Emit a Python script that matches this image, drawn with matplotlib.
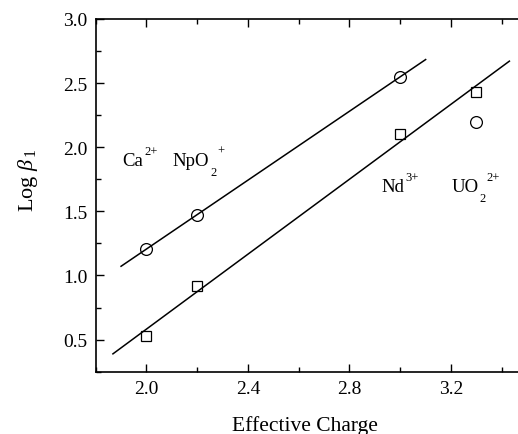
import numpy as np
import matplotlib
matplotlib.use("Agg")
import matplotlib.pyplot as plt
from matplotlib.ticker import MultipleLocator

plt.rcParams['font.family'] = ['Liberation Serif', 'DejaVu Serif']
plt.rcParams['mathtext.fontset'] = 'custom'
plt.rcParams['mathtext.rm'] = 'Liberation Serif'
plt.rcParams['mathtext.it'] = 'Liberation Serif:italic'

# effective charge and log beta_1 for the two series
charge = np.array([2.0, 2.2, 3.0, 3.3])
circ_logb = np.array([1.21, 1.47, 2.55, 2.20])
sq_logb = np.array([0.53, 0.92, 2.10, 2.43])

# ion labels: base, subscript, superscript
ion_base = ['Ca', 'NpO', 'Nd', 'UO']
ion_sub = ['', '2', '', '2']
ion_sup = ['2+', '+', '3+', '2+']
ion_x = [1.905, 2.104, 2.925, 3.203]
ion_y = [1.86, 1.86, 1.655, 1.655]

fig = plt.figure(figsize=(5.18, 4.35), dpi=100)
ax = fig.add_axes([0.1847, 0.1432, 0.833, 0.811])

# linear fits (circle fit uses the first three points)
p1 = np.polyfit(charge[:3], circ_logb[:3], 1)
p2 = np.polyfit(charge, sq_logb, 1)
xl1 = np.array([1.9, 3.1])
xl2 = np.array([1.868, 3.43])
ax.plot(xl1, np.polyval(p1, xl1), color='black', lw=1.1)
ax.plot(xl2, np.polyval(p2, xl2), color='black', lw=1.1)

ax.plot(charge, circ_logb, 'o', mfc='none', mec='black', ms=8.5, mew=0.9)
ax.plot(charge, sq_logb, 's', mfc='none', mec='black', ms=7.5, mew=0.9)

ax.set_xlim(1.8, 3.5)
ax.set_ylim(0.25, 3.0)
ax.xaxis.set_major_locator(MultipleLocator(0.4))
ax.xaxis.set_minor_locator(MultipleLocator(0.2))
ax.yaxis.set_major_locator(MultipleLocator(0.5))
ax.yaxis.set_minor_locator(MultipleLocator(0.25))
ax.tick_params(which='both', direction='in', top=True, right=True, labelsize=14, width=1)
ax.tick_params(which='major', length=6, pad=6)
ax.tick_params(which='minor', length=3.5)
ax.set_yticks([0.5, 1.0, 1.5, 2.0, 2.5, 3.0])
for sp in ax.spines.values():
    sp.set_linewidth(1.2)

ax.set_xlabel('Effective Charge', fontsize=15.5)
ax.set_ylabel(r'Log $\beta_{\,1}$', fontsize=16)
ax.xaxis.set_label_coords(0.485, -0.122)
ax.yaxis.set_label_coords(-0.128, 0.544)

fig.canvas.draw()
rend = fig.canvas.get_renderer()
for b, sb, sp, x, y in zip(ion_base, ion_sub, ion_sup, ion_x, ion_y):
    t = ax.text(x, y, b, fontsize=13.5, va='baseline')
    w = t.get_window_extent(rend).width
    dx = w + 1
    if sb:
        s = ax.annotate(sb, (x, y), xytext=(dx, -10), textcoords='offset pixels',
                        fontsize=9, va='baseline')
        dx += s.get_window_extent(rend).width + 0.5
    ax.annotate(sp, (x, y), xytext=(dx, 11), textcoords='offset pixels',
                fontsize=9, va='baseline')

fig.savefig('out.png', dpi=100)
